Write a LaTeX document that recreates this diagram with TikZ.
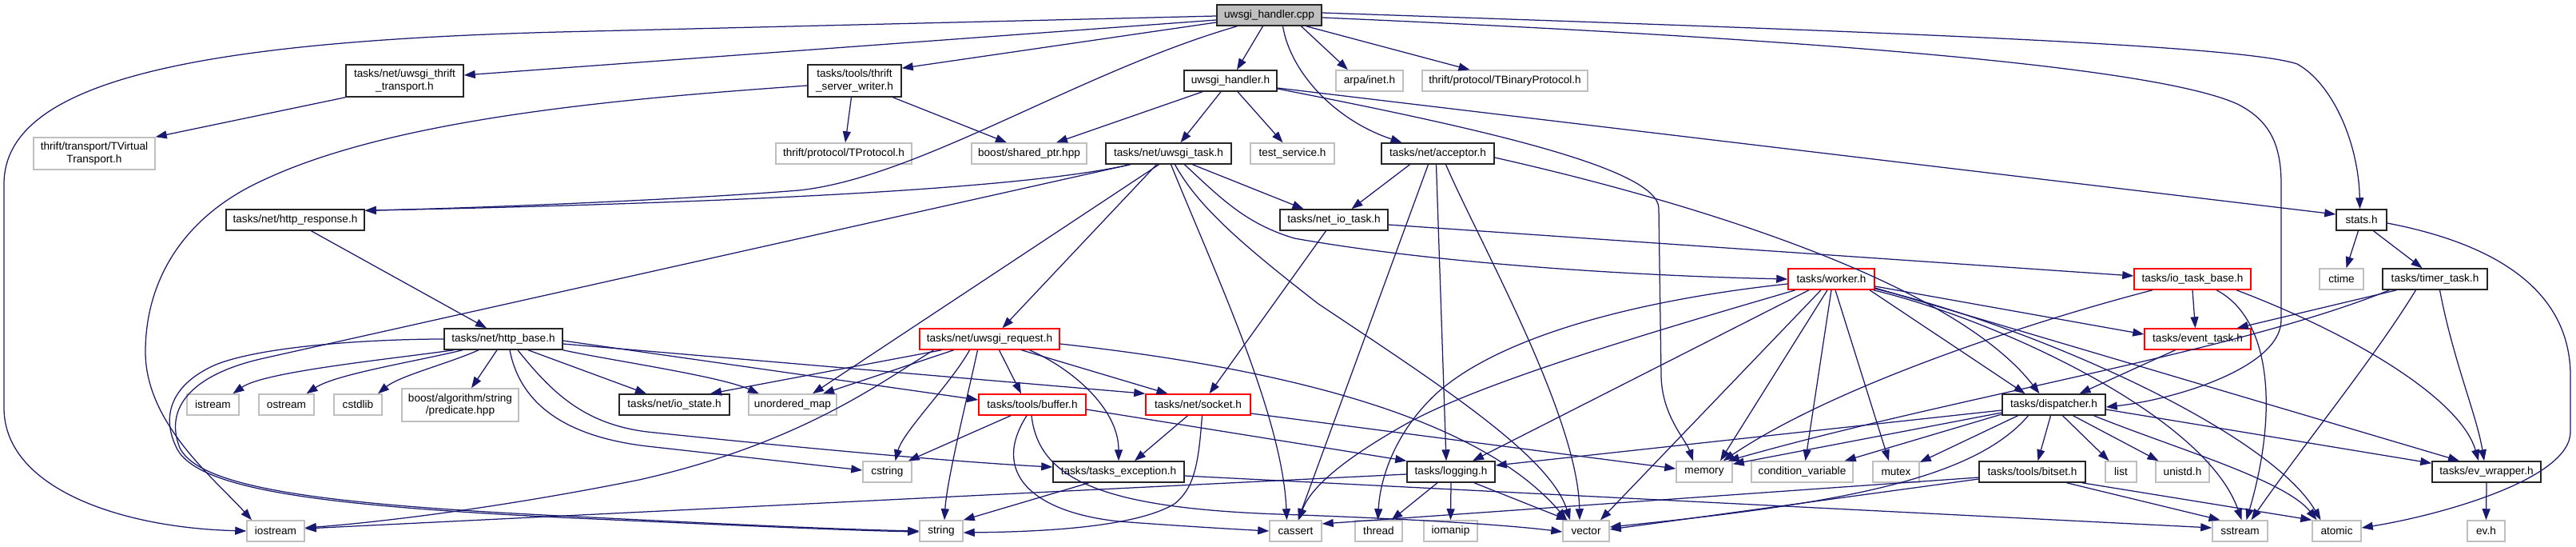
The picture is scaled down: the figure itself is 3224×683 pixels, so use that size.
\documentclass[tikz,border=0pt]{standalone}
\usepackage{fontspec}
\setmainfont{Liberation Sans}
\usetikzlibrary{arrows.meta}
\definecolor{edgeblue}{HTML}{191970}
\definecolor{boxgray}{HTML}{BFBFBF}
\definecolor{boxred}{HTML}{FF0000}
\begin{document}
\begin{tikzpicture}[x=1pt,y=-1pt,
  box/.style={draw, rectangle, fill=white, inner sep=0pt, align=center, line width=1.5pt, minimum height=26pt, font=\fontsize{13.6}{15.5}\selectfont},
  bk/.style={box, draw=black!85},
  gr/.style={box, draw=boxgray},
  rd/.style={box, draw=boxred},
  e/.style={draw=edgeblue, line width=1.25pt, -{Triangle[length=14pt,width=10pt]}}
]
\fill[white] (0,0) rectangle (3224,683);
\useasboundingbox (0,0) rectangle (3224,683);

% nodes
\node[bk, fill=boxgray, minimum width=131pt] (cpp) at (1588.5,19) {uwsgi\_handler.cpp};
\node[bk, minimum width=147pt, minimum height=40pt] (thr) at (506.5,101) {tasks/net/uwsgi\_thrift\\\_transport.h};
\node[gr, minimum width=152pt, minimum height=40pt] (tvt) at (118,192) {thrift/transport/TVirtual\\Transport.h};
\node[bk, minimum width=117pt, minimum height=40pt] (tsw) at (1069.5,101) {tasks/tools/thrift\\\_server\_writer.h};
\node[bk, minimum width=116pt] (uhh) at (1540,101) {uwsgi\_handler.h};
\node[gr, minimum width=84pt] (arpa) at (1714,101) {arpa/inet.h};
\node[gr, minimum width=207pt] (tbin) at (1883.5,101) {thrift/protocol/TBinaryProtocol.h};
\node[gr, minimum width=170pt] (tprot) at (1056,192) {thrift/protocol/TProtocol.h};
\node[gr, minimum width=144pt] (shptr) at (1288,192) {boost/shared\_ptr.hpp};
\node[bk, minimum width=157pt] (utask) at (1462.5,192) {tasks/net/uwsgi\_task.h};
\node[gr, minimum width=105pt] (tsvc) at (1617.5,192) {test\_service.h};
\node[bk, minimum width=141pt] (acc) at (1799.5,192) {tasks/net/acceptor.h};
\node[bk, minimum width=173pt] (hresp) at (369.5,275) {tasks/net/http\_response.h};
\node[bk, minimum width=135pt] (nio) at (1669.5,275) {tasks/net\_io\_task.h};
\node[bk, minimum width=63pt] (stats) at (2955.5,275) {stats.h};
\node[rd, minimum width=108pt] (worker) at (2292,349) {tasks/worker.h};
\node[rd, minimum width=146pt] (iotb) at (2744,349) {tasks/io\_task\_base.h};
\node[gr, minimum width=55pt] (ctime) at (2930.5,349) {ctime};
\node[bk, minimum width=131pt] (timer) at (3047.5,349) {tasks/timer\_task.h};
\node[bk, minimum width=148pt] (hbase) at (630,424) {tasks/net/http\_base.h};
\node[rd, minimum width=175pt] (ureq) at (1238.5,424) {tasks/net/uwsgi\_request.h};
\node[rd, minimum width=133pt] (evt) at (2750.5,424) {tasks/event\_task.h};
\node[gr, minimum width=65pt] (istream) at (266.5,506) {istream};
\node[gr, minimum width=69pt] (ostream) at (358.5,506) {ostream};
\node[gr, minimum width=60pt] (cstdlib) at (448,506) {cstdlib};
\node[gr, minimum width=146pt, minimum height=41pt] (pred) at (576,506.5) {boost/algorithm/string\\/predicate.hpp};
\node[bk, minimum width=138pt] (iostate) at (844,506) {tasks/net/io\_state.h};
\node[gr, minimum width=110pt] (umap) at (992,506) {unordered\_map};
\node[rd, minimum width=134pt] (buffer) at (1292,506) {tasks/tools/buffer.h};
\node[rd, minimum width=131pt] (socket) at (1499.5,506) {tasks/net/socket.h};
\node[bk, minimum width=129pt] (disp) at (2570.5,506) {tasks/dispatcher.h};
\node[gr, minimum width=61pt] (cstring) at (1110.5,590) {cstring};
\node[bk, minimum width=164pt] (texc) at (1400,590) {tasks/tasks\_exception.h};
\node[bk, minimum width=110pt] (logging) at (1816,590) {tasks/logging.h};
\node[gr, minimum width=70pt] (memory) at (2133,590) {memory};
\node[gr, minimum width=127pt] (condvar) at (2255.5,590) {condition\_variable};
\node[gr, minimum width=58pt] (mutex) at (2373,590) {mutex};
\node[bk, minimum width=133pt] (bitset) at (2543.5,590) {tasks/tools/bitset.h};
\node[gr, minimum width=39pt] (list) at (2654.5,590) {list};
\node[gr, minimum width=67pt] (unistd) at (2731.5,590) {unistd.h};
\node[bk, minimum width=136pt] (evw) at (3112,590) {tasks/ev\_wrapper.h};
\node[gr, minimum width=72pt] (iostream) at (345,664) {iostream};
\node[gr, minimum width=54pt] (string) at (1178,664) {string};
\node[gr, minimum width=65pt] (cassert) at (1621.5,664) {cassert};
\node[gr, minimum width=59pt] (thread) at (1725.5,664) {thread};
\node[gr, minimum width=67pt] (iomanip) at (1815.5,664) {iomanip};
\node[gr, minimum width=58pt] (vector) at (1985,664) {vector};
\node[gr, minimum width=69pt] (sstream) at (2803.5,664) {sstream};
\node[gr, minimum width=61pt] (atomic) at (2924.5,664) {atomic};
\node[gr, minimum width=47pt] (evh) at (3111.5,664) {ev.h};

% cpp
\draw[e] ([yshift=-1]cpp.west) -- (700,40) .. controls (250,52) and (5,100) .. (5,230) -- (5,510) .. controls (5,610) and (150,660) .. (iostream.west);
\draw[e] ([yshift=-6]cpp.west) -- ([yshift=7]thr.east);
\draw[e] ([yshift=-9]cpp.west) -- ([yshift=-5]tsw.north east);
\draw[e] ([xshift=-40]cpp.south) .. controls (1350,90) and (1150,222) .. (1000,238) .. controls (850,250) and (600,260) .. ([yshift=-2]hresp.north east);
\draw[e] ([xshift=-8]cpp.south) -- ([xshift=8]uhh.north);
\draw[e] ([xshift=17]cpp.south) .. controls (1615,90) and (1670,150) .. ([xshift=-45]acc.north);
\draw[e] ([xshift=40]cpp.south) -- ([xshift=-27]arpa.north);
\draw[e] ([xshift=-20]cpp.south east) -- ([xshift=-44]tbin.north);
\draw[e] ([yshift=3]cpp.east) .. controls (2300,38) and (2800,55) .. (2875,80) .. controls (2920,105) and (2952,180) .. ([xshift=-2]stats.north);
\draw[e] ([yshift=-3]cpp.east) .. controls (2300,50) and (2700,85) .. (2800,130) .. controls (2840,150) and (2855,180) .. (2855,230) -- (2855,400) .. controls (2855,460) and (2720,500) .. ([yshift=-3]disp.east);

% uwsgi_handler.h
\draw[e] ([xshift=-35]uhh.south) -- ([xshift=34]shptr.north);
\draw[e] ([xshift=-12]uhh.south) -- ([xshift=15]utask.north);
\draw[e] ([xshift=9]uhh.south) -- ([xshift=-12]tsvc.north);
\draw[e] ([yshift=-9]uhh.east) -- ([yshift=7]stats.west);
\draw[e] ([yshift=-10]uhh.east) .. controls (1850,160) and (2074,210) .. (2076,260) -- (2079,470) .. controls (2080,520) and (2110,550) .. ([xshift=-14]memory.north);

% thrift_server_writer
\draw[e] ([xshift=-4]tsw.south) -- ([xshift=2]tprot.north);
\draw[e] ([xshift=48]tsw.south) -- ([xshift=-28]shptr.north);
\draw[e] ([yshift=-6]tsw.west) .. controls (800,122) and (500,145) .. (330,225) .. controls (230,270) and (182,350) .. (182,440) .. controls (182,530) and (270,600) .. ([xshift=-30]iostream.north);

% thrift transport
\draw[e] (thr.south west) -- (tvt.north east);

% uwsgi_task
\draw[e] ([xshift=-48]utask.south) .. controls (1300,232) and (1000,252) .. ([yshift=-2]hresp.north east);
\draw[e] ([xshift=-48]utask.south) -- (330,448) .. controls (240,468) and (205,510) .. (225,560) .. controls (250,610) and (400,630) .. (700,645) .. controls (900,655) and (1050,662) .. (string.west);
\draw[e] ([xshift=-15]utask.south) -- ([xshift=16]ureq.north);
\draw[e] ([xshift=-12]utask.south) -- ([xshift=25]umap.north);
\draw[e] ([xshift=3]utask.south) .. controls (1520,340) and (1605,520) .. ([xshift=-11]cassert.north);
\draw[e] ([xshift=8]utask.south) .. controls (1500,260) and (1560,310) .. (1650,380) .. controls (1800,480) and (1940,570) .. ([xshift=-20]vector.north);
\draw[e] ([xshift=30]utask.south) -- ([xshift=-38]nio.north);
\draw[e] ([xshift=20]utask.south) .. controls (1530,250) and (1560,280) .. (1620,298) .. controls (1800,330) and (2050,345) .. (worker.west);

% acceptor
\draw[e] ([xshift=-35]acc.south) -- ([xshift=22]nio.north);
\draw[e] ([xshift=-12]acc.south) -- ([xshift=3]cassert.north);
\draw[e] ([xshift=-2]acc.south) -- ([xshift=-6]logging.north);
\draw[e] ([xshift=10]acc.south) .. controls (1850,300) and (1975,520) .. ([xshift=-8]vector.north);
\draw[e] ([yshift=-5]acc.east) .. controls (2150,260) and (2450,360) .. ([xshift=-18]disp.north);

% net_io_task
\draw[e] ([yshift=-6]nio.east) -- ([yshift=4]iotb.west);
\draw[e] ([xshift=-10]nio.south) -- ([xshift=14]socket.north);

% http_response
\draw[e] ([xshift=20]hresp.south) -- ([xshift=-21]hbase.north);

% http_base
\draw[e] (hbase.west) .. controls (470,424) and (330,432) .. (270,456) .. controls (215,480) and (200,520) .. (222,562) .. controls (250,612) and (400,632) .. (700,647) .. controls (900,656) and (1050,663) .. ([yshift=-1]string.west);
\draw[e] ([xshift=-62]hbase.south) .. controls (480,450) and (330,465) .. ([xshift=25]istream.north);
\draw[e] ([xshift=-51]hbase.south) .. controls (520,452) and (420,468) .. ([xshift=25]ostream.north);
\draw[e] ([xshift=-31]hbase.south) .. controls (560,455) and (500,470) .. ([xshift=25]cstdlib.north);
\draw[e] ([xshift=-8]hbase.south) -- ([xshift=14]pred.north);
\draw[e] ([xshift=8]hbase.south) .. controls (650,500) and (700,545) .. (810,558) -- ([yshift=2]cstring.west);
\draw[e] ([xshift=18]hbase.south) .. controls (690,490) and (730,530) .. (810,540) .. controls (1000,560) and (1200,578) .. ([yshift=6]texc.west);
\draw[e] ([xshift=31]hbase.south) -- ([xshift=-35]iostate.north);
\draw[e] (hbase.south east) .. controls (760,450) and (900,470) .. ([xshift=-42]umap.north);
\draw[e] ([yshift=-2]hbase.east) -- ([yshift=6]buffer.west);
\draw[e] ([yshift=-6]hbase.east) -- (socket.north west);

% uwsgi_request
\draw[e] ([xshift=-60]ureq.south) -- ([xshift=45]iostate.north);
\draw[e] ([xshift=-45]ureq.south) -- ([xshift=38]umap.north);
\draw[e] ([xshift=-70]ureq.south) .. controls (1100,480) and (1000,555) .. (800,600) .. controls (600,640) and (450,655) .. ([yshift=4]iostream.east);
\draw[e] ([xshift=-25]ureq.south) .. controls (1190,480) and (1130,540) .. ([xshift=10]cstring.north);
\draw[e] ([xshift=-15]ureq.south) .. controls (1210,500) and (1185,600) .. ([xshift=4]string.north);
\draw[e] ([xshift=12]ureq.south) -- ([xshift=-14]buffer.north);
\draw[e] ([xshift=50]ureq.south) .. controls (1340,460) and (1400,510) .. (texc.north);
\draw[e] ([xshift=40]ureq.south) -- ([xshift=-38]socket.north);
\draw[e] ([yshift=-6]ureq.east) .. controls (1600,460) and (1850,520) .. ([xshift=-24]vector.north);

% buffer
\draw[e] ([xshift=-27]buffer.south) -- ([xshift=-5]cstring.north east);
\draw[e] ([xshift=-7]buffer.south) .. controls (1240,590) and (1290,640) .. (1400,652) .. controls (1480,658) and (1550,662) .. (cassert.west);
\draw[e] ([xshift=-1]buffer.south) .. controls (1300,600) and (1380,635) .. (1600,643) .. controls (1800,650) and (1900,658) .. ([yshift=-1]vector.west);
\draw[e] ([yshift=-6]buffer.east) -- (logging.north west);

% socket
\draw[e] ([xshift=-13]socket.south) -- ([xshift=20]texc.north);
\draw[e] ([xshift=5]socket.south) .. controls (1500,580) and (1495,610) .. (1470,630) .. controls (1420,660) and (1300,665) .. ([yshift=-2]string.east);
\draw[e] ([yshift=-11]socket.east) -- ([yshift=4]memory.west);

% tasks_exception
\draw[e] ([xshift=-37]texc.south) -- (string.north east);
\draw[e] ([yshift=-5]texc.east) -- ([yshift=4]sstream.west);

% logging
\draw[e] ([yshift=-3]logging.west) -- ([yshift=3]iostream.east);
\draw[e] ([xshift=-17]logging.south) -- ([xshift=16]thread.north);
\draw[e] (logging.south) -- (iomanip.north);
\draw[e] ([xshift=29]logging.south) -- ([xshift=-23]vector.north);

% worker
\draw[e] ([yshift=-6]worker.west) .. controls (2050,375) and (1880,420) .. (1800,490) .. controls (1745,540) and (1727,600) .. ([xshift=-1]thread.north);
\draw[e] ([xshift=-45]worker.south) .. controls (2050,420) and (1850,480) .. (1760,530) .. controls (1680,575) and (1640,610) .. ([xshift=4]cassert.north);
\draw[e] ([xshift=-28]worker.south) -- ([xshift=27]logging.north);
\draw[e] ([xshift=-13]worker.south) -- ([xshift=18]vector.north);
\draw[e] ([xshift=-5]worker.south) -- ([xshift=20]memory.north);
\draw[e] (worker.south) -- ([xshift=4]condvar.north);
\draw[e] ([xshift=5]worker.south) -- ([xshift=-9]mutex.north);
\draw[e] ([xshift=48]worker.south) -- ([xshift=-36]disp.north);
\draw[e] ([yshift=-9]worker.east) -- ([yshift=6]evt.west);
\draw[e] ([yshift=-11]worker.east) -- ([xshift=-34]evw.north);
\draw[e] ([yshift=-12]worker.east) .. controls (2550,410) and (2840,540) .. ([xshift=-20]atomic.north);
\draw[e] ([xshift=-2]worker.south east) .. controls (2500,400) and (2760,520) .. ([xshift=2]sstream.north);

% io_task_base
\draw[e] (iotb.south) -- ([xshift=-3]evt.north);
\draw[e] ([xshift=-50]iotb.south) .. controls (2550,400) and (2300,480) .. ([xshift=-12]memory.north east);
\draw[e] ([xshift=30]iotb.south) .. controls (2845,400) and (2850,520) .. ([xshift=8]sstream.north);
\draw[e] ([xshift=55]iotb.south) .. controls (2950,420) and (3080,500) .. ([xshift=-10]evw.north);

% event_task
\draw[e] ([xshift=-28]evt.south) -- ([xshift=32]disp.north);

% timer_task
\draw[e] ([xshift=-48]timer.south) -- ([xshift=-18]evt.north east);
\draw[e] ([xshift=-57]timer.south) .. controls (2800,440) and (2450,495) .. ([xshift=-6]memory.north east);
\draw[e] ([xshift=-24]timer.south) .. controls (2970,450) and (2880,560) .. ([xshift=14]sstream.north);
\draw[e] ([xshift=6]timer.south) .. controls (3070,450) and (3100,520) .. ([xshift=-3]evw.north);

% stats
\draw[e] ([xshift=-4]stats.south) -- ([xshift=6]ctime.north);
\draw[e] ([xshift=15]stats.south) -- ([xshift=-16]timer.north);
\draw[e] ([yshift=-4]stats.east) .. controls (3150,310) and (3217,380) .. (3217,470) -- (3217,540) .. controls (3217,600) and (3050,645) .. ([yshift=4]atomic.east);

% dispatcher
\draw[e] ([yshift=-7]disp.west) -- ([yshift=8]logging.east);
\draw[e] ([yshift=-10]disp.west) -- ([yshift=-4]memory.north east);
\draw[e] ([yshift=-12]disp.west) -- ([xshift=-11]condvar.north east);
\draw[e] ([xshift=-45]disp.south) -- ([yshift=12]mutex.east);
\draw[e] ([xshift=-32]disp.south) .. controls (2470,600) and (2300,630) .. ([yshift=5]vector.east);
\draw[e] ([xshift=-4]disp.south) -- ([xshift=7]bitset.north);
\draw[e] ([xshift=11]disp.south) -- ([xshift=-15]list.north);
\draw[e] ([xshift=24]disp.south) -- ([xshift=-30]unistd.north);
\draw[e] ([xshift=50]disp.south) .. controls (2720,560) and (2860,600) .. ([xshift=-25]atomic.north);
\draw[e] ([yshift=-6]disp.east) -- ([yshift=-3]evw.north west);

% bitset
\draw[e] ([yshift=-7]bitset.west) -- ([yshift=9]cassert.east);
\draw[e] ([yshift=-9]bitset.west) -- ([yshift=2]vector.east);
\draw[e] ([xshift=43]bitset.south) -- ([xshift=-25]sstream.north);
\draw[e] ([xshift=-5]bitset.south east) -- (atomic.north west);

% ev_wrapper
\draw[e] (evw.south) -- (evh.north);
\end{tikzpicture}
\end{document}
